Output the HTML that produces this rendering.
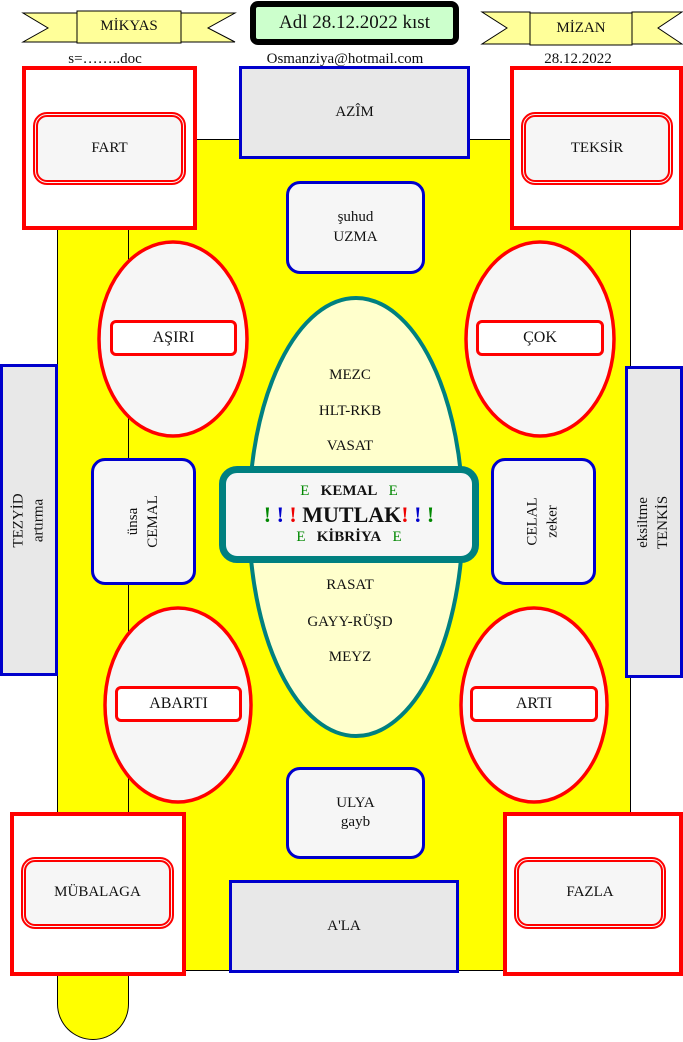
<!DOCTYPE html>
<html><head><meta charset="utf-8"><style>
body{margin:0;width:683px;height:1042px;position:relative;background:#fff;font-family:"Liberation Serif",serif;font-size:15px;color:#111;overflow:hidden}
.a{position:absolute;box-sizing:border-box;display:flex;align-items:center;justify-content:center;text-align:center;line-height:1.3}
.red{border:4px solid #f00;background:#fff}
.inn{border:5px double #f00;border-radius:14px;background:#f6f6f6}
.blue{border:3px solid #00c;background:#e8e8e8}
.bl2{border:3px solid #00c;border-radius:14px;background:#f6f6f6}
.t{position:absolute;text-align:center;font-size:15px}
.rot{transform:rotate(-90deg);white-space:nowrap}
</style></head><body>
<div style="position:absolute;left:57px;top:139px;width:72px;height:901px;background:#ff0;border:1.5px solid #000;border-top:none;border-radius:0 0 36px 36px;box-sizing:border-box"></div>
<div style="position:absolute;left:128px;top:139px;width:503px;height:832px;background:#ff0;border:1.5px solid #000;box-sizing:border-box"></div>

<svg style="position:absolute;left:0;top:0" width="683" height="60">
<g fill="#ffff99" stroke="#000" stroke-width="1">
<polygon points="23,13 77,13 77,42 23,42 48,28"/>
<polygon points="181,13 235,13 208,28 235,42 181,42"/>
<rect x="77" y="11" width="104" height="32"/>
<polygon points="482,12 530,12 530,44 482,44 507,28"/>
<polygon points="632,12 682,12 658,28 682,44 632,44"/>
<rect x="530" y="13" width="102" height="32"/>
</g></svg>
<div class="a" style="left:77px;top:11px;width:104px;height:32px">MİKYAS</div>
<div class="a" style="left:530px;top:13px;width:102px;height:32px">MİZAN</div>
<div class="a" style="left:250px;top:1px;width:209px;height:44px;border:6px solid #000;border-radius:8px;background:#ccffcc;font-size:19px">Adl 28.12.2022 kıst</div>
<div class="t" style="left:50px;top:51px;width:110px">s=……..doc</div>
<div class="t" style="left:245px;top:51px;width:200px">Osmanziya@hotmail.com</div>
<div class="t" style="left:528px;top:51px;width:100px">28.12.2022</div>

<div class="a red" style="left:22px;top:66px;width:175px;height:164px"></div>
<div class="a inn" style="left:33px;top:112px;width:153px;height:73px">FART</div>
<div class="a red" style="left:510px;top:66px;width:173px;height:164px"></div>
<div class="a inn" style="left:521px;top:112px;width:152px;height:73px">TEKSİR</div>
<div class="a red" style="left:10px;top:812px;width:176px;height:164px"></div>
<div class="a inn" style="left:21px;top:857px;width:153px;height:72px">MÜBALAGA</div>
<div class="a red" style="left:503px;top:812px;width:180px;height:164px"></div>
<div class="a inn" style="left:514px;top:857px;width:152px;height:72px">FAZLA</div>

<div class="a blue" style="left:239px;top:66px;width:231px;height:93px">AZÎM</div>
<div class="a blue" style="left:229px;top:880px;width:230px;height:93px">A'LA</div>
<div class="a bl2" style="left:286px;top:181px;width:139px;height:93px">şuhud<br>UZMA</div>
<div class="a bl2" style="left:286px;top:767px;width:139px;height:92px">ULYA<br>gayb</div>
<div class="a blue" style="left:0;top:364px;width:58px;height:312px"><div class="rot">TEZYİD<br>artırma</div></div>
<div class="a blue" style="left:625px;top:366px;width:58px;height:312px"><div class="rot">eksiltme<br>TENKİS</div></div>
<div class="a bl2" style="left:91px;top:458px;width:105px;height:127px"><div class="rot">ünsa<br>CEMAL</div></div>
<div class="a bl2" style="left:491px;top:458px;width:105px;height:127px"><div class="rot">CELAL<br>zeker</div></div>

<svg style="position:absolute;left:0;top:0" width="683" height="1042">
<g fill="#f6f6f6" stroke="#f00" stroke-width="3.5">
<ellipse cx="173" cy="339" rx="74" ry="97"/>
<ellipse cx="540" cy="339" rx="74" ry="97"/>
<ellipse cx="178" cy="705" rx="73" ry="97"/>
<ellipse cx="534" cy="705" rx="73" ry="97"/>
</g>
<ellipse cx="356" cy="517" rx="107" ry="219" fill="#ffffcc" stroke="#008080" stroke-width="4"/>
</svg>
<div class="a" style="left:110px;top:320px;width:127px;height:36px;border:3px solid #f00;border-radius:6px;background:#fff;font-size:16px">AŞIRI</div>
<div class="a" style="left:476px;top:320px;width:128px;height:36px;border:3px solid #f00;border-radius:6px;background:#fff;font-size:16px">ÇOK</div>
<div class="a" style="left:115px;top:686px;width:127px;height:36px;border:3px solid #f00;border-radius:6px;background:#fff;font-size:16px">ABARTI</div>
<div class="a" style="left:470px;top:686px;width:128px;height:36px;border:3px solid #f00;border-radius:6px;background:#fff;font-size:16px">ARTI</div>

<div class="t" style="left:300px;top:367px;width:100px">MEZC</div>
<div class="t" style="left:300px;top:403px;width:100px">HLT-RKB</div>
<div class="t" style="left:300px;top:438px;width:100px">VASAT</div>
<div class="t" style="left:300px;top:577px;width:100px">RASAT</div>
<div class="t" style="left:290px;top:614px;width:120px">GAYY-RÜŞD</div>
<div class="t" style="left:300px;top:649px;width:100px">MEYZ</div>

<div class="a" style="left:219px;top:466px;width:260px;height:97px;border:7px solid #008080;border-radius:18px;background:#f6f6f6;flex-direction:column;line-height:1.25">
<div><span style="color:#080">E</span>&nbsp;&nbsp;&nbsp;<b>KEMAL</b>&nbsp;&nbsp;&nbsp;<span style="color:#080">E</span></div>
<div style="font-size:22px;font-weight:bold"><span style="color:#080">!</span> <span style="color:#00c">!</span> <span style="color:#e00">!</span> MUTLAK<span style="color:#e00">!</span> <span style="color:#00c">!</span> <span style="color:#080">!</span></div>
<div><span style="color:#080">E</span>&nbsp;&nbsp;&nbsp;<b>KİBRİYA</b>&nbsp;&nbsp;&nbsp;<span style="color:#080">E</span></div>
</div>
</body></html>
